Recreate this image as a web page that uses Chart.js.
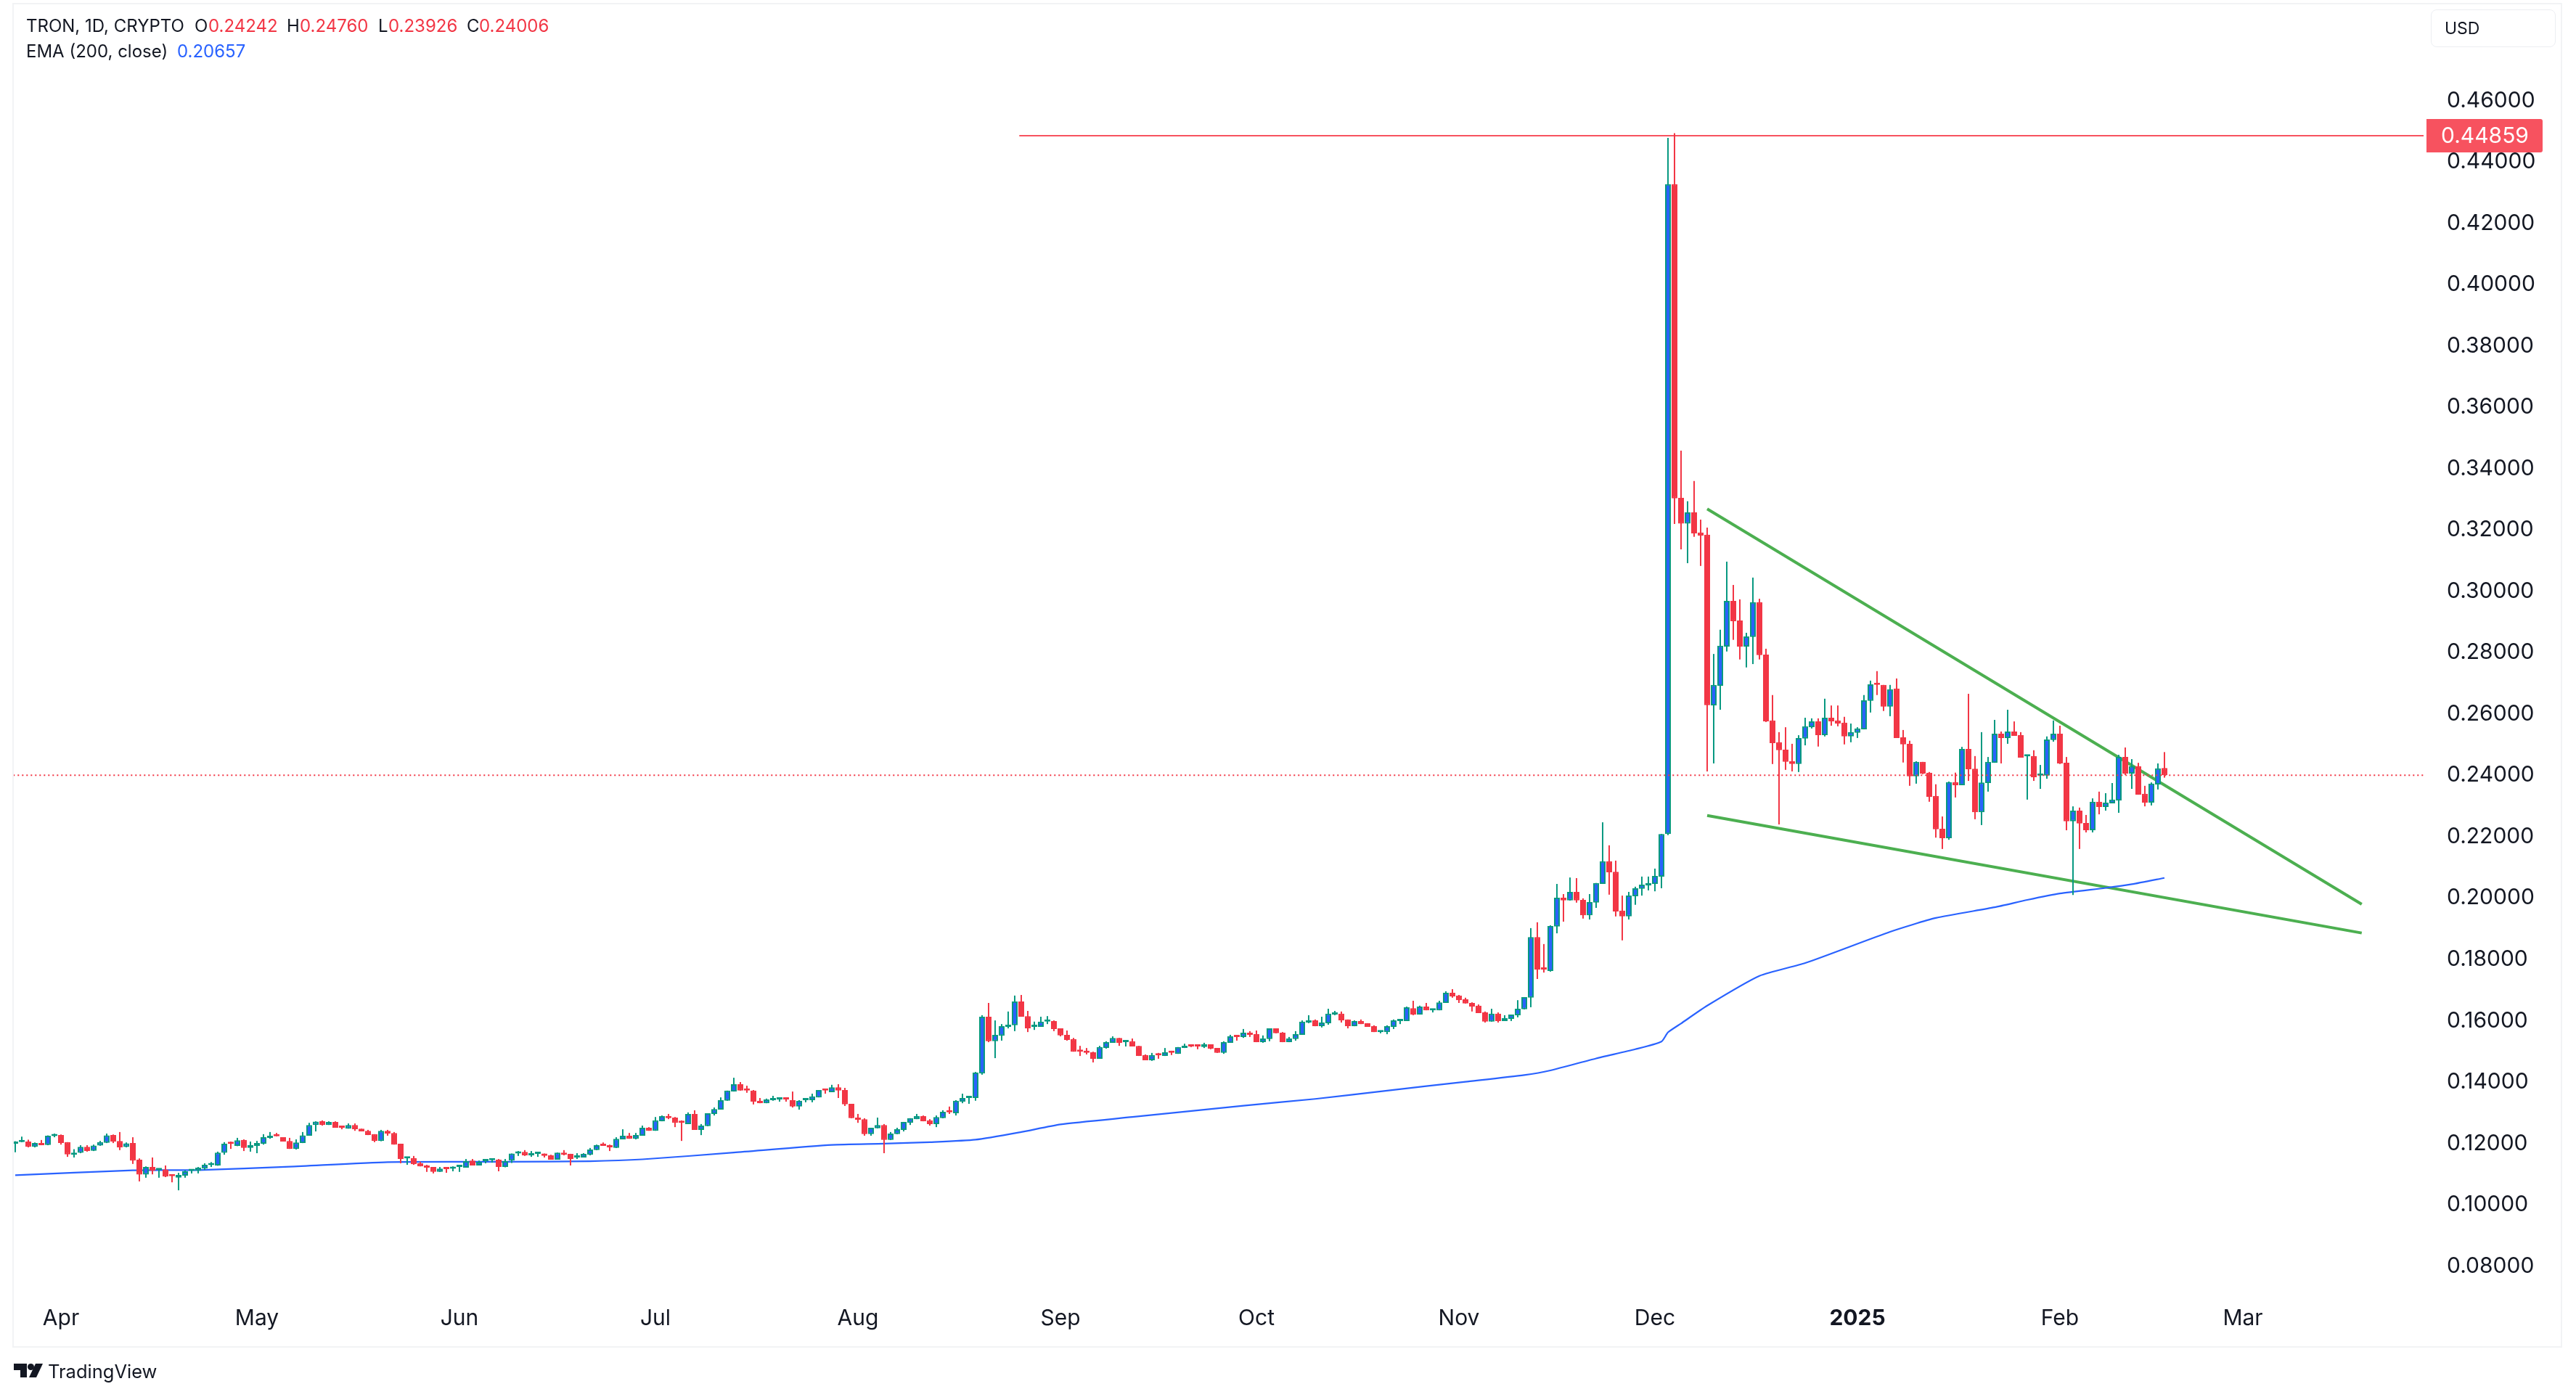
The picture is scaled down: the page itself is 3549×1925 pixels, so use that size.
<!DOCTYPE html>
<html>
<head>
<meta charset="utf-8">
<title>TRON, 1D, CRYPTO</title>
<script src="https://cdn.jsdelivr.net/npm/chart.js@4/dist/chart.umd.min.js"></script>
<style>
    html, body { margin: 0; padding: 0; background: #fff; }
    body { width: 3549px; height: 1925px; overflow: hidden; position: relative; font-family: Inter, sans-serif; color: #131722; }
    #chart { position: absolute; left: 0; top: 0; }
    #frame { position: absolute; left: 17px; top: 4px; width: 3509px; height: 1849px; border: 2px solid #f2f3f5; }
    .t { position: absolute; font-size: 24px; line-height: 30px; white-space: nowrap; }
    .red { color: #f23645; }
    .blue { color: #2962ff; }
    #usd { position: absolute; left: 3349px; top: 13px; width: 172px; height: 52px; box-sizing: border-box; border: 1px solid #eceef2; border-radius: 8px; font-size: 23px; line-height: 50px; padding-left: 18px; }
    #brand { position: absolute; left: 66px; top: 1876px; font-size: 25.5px; line-height: 28px; }
    #logo { position: absolute; left: 19px; top: 1879px; }
</style>
</head>
<body>
<canvas id="chart" width="3549" height="1925"></canvas>
<div id="frame"></div>

<div class="t" style="left:36px;top:21px">TRON, 1D, CRYPTO</div>
<div class="t" style="left:268px;top:21px">O</div><div class="t red" style="left:287px;top:21px">0.24242</div>
<div class="t" style="left:395px;top:21px">H</div><div class="t red" style="left:413px;top:21px">0.24760</div>
<div class="t" style="left:521px;top:21px">L</div><div class="t red" style="left:535px;top:21px">0.23926</div>
<div class="t" style="left:643px;top:21px">C</div><div class="t red" style="left:660px;top:21px">0.24006</div>
<div class="t" style="left:36px;top:56px">EMA (200, close)</div>
<div class="t blue" style="left:244px;top:56px">0.20657</div>

<div id="usd">USD</div>

<svg id="logo" width="40" height="20" viewBox="0 0 40 20">
    <path d="M0 0H18V19H9V9H0Z" fill="#131722"/>
    <circle cx="23.5" cy="4.5" r="4.5" fill="#131722"/>
    <path d="M30 0H40L31 19H21Z" fill="#131722"/>
</svg>
<div id="brand">TradingView</div>

<script>
// Candles, Mar 25 2024 is index 0
var opens = [
    .1199,.1204,.1206,.1189,.1201,.1195,.1224,.1227,.1204,.1163,
    .1169,.1189,.1176,.1193,.1202,.1227,.1208,.1188,.1201,.1147,
    .1098,.1123,.1113,.1115,.1097,.1088,.1095,.1110,.1111,.1118,
    .1129,.1128,.1169,.1201,.1192,.1211,.1185,.1192,.1199,.1218,
    .1226,.1220,.1208,.1182,.1201,.1225,.1260,.1272,.1260,.1270,
    .1255,.1248,.1260,.1248,.1241,.1230,.1208,.1241,.1234,.1199,
    .1151,.1152,.1135,.1128,.1123,.1107,.1120,.1117,.1123,.1121,
    .1144,.1128,.1142,.1145,.1147,.1123,.1144,.1167,.1172,.1161,
    .1166,.1167,.1161,.1147,.1170,.1166,.1154,.1154,.1163,.1178,
    .1196,.1193,.1185,.1213,.1225,.1215,.1225,.1251,.1241,.1272,
    .1289,.1284,.1273,.1263,.1296,.1244,.1256,.1296,.1310,.1339,
    .1369,.1393,.1376,.1372,.1339,.1331,.1341,.1343,.1348,.1341,
    .1320,.1341,.1341,.1350,.1376,.1367,.1383,.1374,.1329,.1284,
    .1279,.1230,.1249,.1260,.1211,.1230,.1244,.1267,.1279,.1289,
    .1275,.1263,.1282,.1305,.1298,.1336,.1348,.1348,.1428,.1613,
    .1533,.1551,.1580,.1585,.1663,.1615,.1580,.1580,.1597,.1599,
    .1575,.1554,.1540,.1504,.1499,.1497,.1476,.1511,.1528,.1544,
    .1530,.1533,.1518,.1488,.1471,.1491,.1485,.1499,.1492,.1511,
    .1521,.1521,.1514,.1523,.1511,.1495,.1528,.1552,.1547,.1561,
    .1556,.1530,.1540,.1575,.1561,.1530,.1540,.1554,.1594,.1601,
    .1582,.1592,.1620,.1623,.1604,.1582,.1599,.1592,.1582,.1563,
    .1563,.1580,.1599,.1599,.1641,.1620,.1646,.1634,.1634,.1658,
    .1691,.1682,.1670,.1658,.1649,.1627,.1597,.1623,.1599,.1606,
    .1618,.1637,.1675,.1873,.1772,.1762,.1907,.2001,.1992,.2020,
    .1994,.1944,.1985,.2046,.2120,.2086,.1959,.1940,.2006,.2030,
    .2041,.2046,.2070,.2209,.4328,.3305,.3221,.3258,.3192,.3185,
    .2628,.2692,.2820,.2969,.2905,.2820,.2851,.2965,.2794,.2579,
    .2508,.2484,.2446,.2437,.2520,.2557,.2576,.2531,.2588,.2579,
    .2572,.2527,.2539,.2550,.2643,.2699,.2695,.2624,.2683,.2524,
    .2503,.2397,.2444,.2409,.2333,.2226,.2195,.2378,.2368,.2486,
    .2422,.2280,.2375,.2441,.2536,.2522,.2543,.2531,.2462,.2463,
    .2399,.2399,.2515,.2536,.2441,.2250,.2285,.2245,.2221,.2314,
    .2297,.2309,.2318,.2460,.2406,.2430,.2340,.2311,.2370,.24242
];
var highs = [
    .1207,.1222,.1212,.1203,.1211,.1226,.1232,.1229,.1204,.1181,
    .1194,.1194,.1196,.1208,.1232,.1229,.1237,.1203,.1220,.1151,
    .1125,.1154,.1118,.1128,.1099,.1104,.1112,.1113,.1123,.1135,
    .1139,.1173,.1204,.1206,.1218,.1213,.1206,.1208,.1230,.1237,
    .1234,.1220,.1218,.1213,.1237,.1267,.1272,.1275,.1272,.1272,
    .1255,.1265,.1265,.1248,.1244,.1230,.1244,.1244,.1237,.1199,
    .1154,.1159,.1140,.1130,.1123,.1123,.1121,.1125,.1125,.1149,
    .1149,.1144,.1147,.1149,.1149,.1149,.1167,.1175,.1178,.1175,
    .1170,.1167,.1163,.1170,.1178,.1166,.1168,.1168,.1185,.1196,
    .1203,.1196,.1220,.1246,.1234,.1234,.1258,.1253,.1286,.1291,
    .1296,.1286,.1275,.1301,.1308,.1263,.1298,.1317,.1350,.1372,
    .1414,.1400,.1388,.1374,.1348,.1346,.1355,.1348,.1348,.1369,
    .1341,.1346,.1362,.1374,.1376,.1391,.1393,.1381,.1329,.1296,
    .1282,.1251,.1284,.1263,.1237,.1251,.1270,.1282,.1296,.1291,
    .1279,.1291,.1308,.1320,.1341,.1362,.1355,.1433,.1618,.1658,
    .1601,.1589,.1630,.1682,.1684,.1632,.1597,.1613,.1615,.1601,
    .1575,.1568,.1544,.1518,.1511,.1499,.1518,.1533,.1549,.1544,
    .1535,.1542,.1518,.1490,.1495,.1495,.1511,.1502,.1514,.1525,
    .1523,.1521,.1528,.1523,.1511,.1533,.1554,.1552,.1573,.1566,
    .1568,.1552,.1575,.1575,.1563,.1547,.1566,.1601,.1618,.1604,
    .1613,.1639,.1632,.1630,.1604,.1601,.1604,.1592,.1585,.1568,
    .1585,.1604,.1604,.1646,.1665,.1649,.1658,.1639,.1665,.1696,
    .1703,.1684,.1675,.1660,.1653,.1630,.1639,.1627,.1618,.1620,
    .1667,.1677,.1902,.1921,.1850,.1911,.2046,.2013,.2067,.2065,
    .1999,.2013,.2049,.2247,.2172,.2122,.2008,.2020,.2037,.2070,
    .2070,.2096,.2209,.4479,.4494,.3459,.3294,.3360,.3234,.3208,
    .2796,.2875,.3097,.3021,.2974,.2865,.3045,.2976,.2813,.2662,
    .2541,.2557,.2503,.2531,.2588,.2586,.2586,.2650,.2628,.2628,
    .2591,.2569,.2557,.2662,.2709,.2740,.2695,.2695,.2716,.2548,
    .2513,.2446,.2444,.2411,.2371,.2266,.2380,.2409,.2493,.2666,
    .2463,.2541,.2460,.2581,.2543,.2614,.2576,.2541,.2464,.2482,
    .2434,.2527,.2579,.2562,.2460,.2299,.2295,.2271,.2325,.2347,
    .2342,.2375,.2467,.2491,.2453,.2441,.2366,.2377,.2439,.24760
];
var lows = [
    .1171,.1204,.1187,.1187,.1194,.1194,.1220,.1196,.1156,.1154,
    .1168,.1173,.1175,.1192,.1201,.1201,.1178,.1187,.1133,.1076,
    .1088,.1099,.1088,.1090,.1073,.1047,.1088,.1102,.1102,.1113,
    .1123,.1127,.1163,.1182,.1191,.1175,.1173,.1168,.1196,.1215,
    .1223,.1206,.1182,.1180,.1201,.1225,.1239,.1258,.1260,.1251,
    .1246,.1248,.1241,.1239,.1227,.1204,.1207,.1225,.1196,.1135,
    .1130,.1130,.1125,.1107,.1102,.1107,.1104,.1109,.1107,.1121,
    .1128,.1128,.1135,.1137,.1109,.1122,.1136,.1159,.1159,.1156,
    .1156,.1154,.1147,.1147,.1161,.1128,.1149,.1154,.1161,.1178,
    .1192,.1175,.1185,.1213,.1215,.1213,.1225,.1241,.1241,.1272,
    .1279,.1253,.1208,.1263,.1244,.1227,.1256,.1291,.1310,.1339,
    .1369,.1372,.1365,.1327,.1331,.1331,.1339,.1336,.1336,.1317,
    .1310,.1334,.1334,.1350,.1362,.1367,.1348,.1322,.1282,.1267,
    .1225,.1225,.1249,.1168,.1211,.1230,.1239,.1260,.1279,.1272,
    .1258,.1253,.1282,.1296,.1291,.1331,.1329,.1339,.1424,.1530,
    .1478,.1535,.1575,.1566,.1613,.1563,.1570,.1580,.1589,.1566,
    .1549,.1535,.1499,.1485,.1490,.1464,.1476,.1509,.1528,.1518,
    .1516,.1516,.1485,.1471,.1469,.1476,.1485,.1488,.1492,.1511,
    .1514,.1507,.1511,.1507,.1495,.1492,.1528,.1535,.1544,.1547,
    .1530,.1528,.1533,.1559,.1530,.1530,.1535,.1554,.1592,.1582,
    .1578,.1587,.1618,.1594,.1575,.1582,.1589,.1580,.1563,.1559,
    .1556,.1573,.1589,.1599,.1618,.1620,.1634,.1627,.1634,.1658,
    .1675,.1658,.1656,.1630,.1625,.1594,.1597,.1594,.1599,.1599,
    .1611,.1637,.1644,.1736,.1757,.1760,.1885,.1923,.1992,.1985,
    .1933,.1930,.1968,.2046,.2011,.1940,.1862,.1930,.1978,.2008,
    .2025,.2022,.2032,.2205,.3220,.3137,.3092,.3178,.3083,.2413,
    .2439,.2614,.2804,.2842,.2778,.2752,.2763,.2778,.2574,.2437,
    .2240,.2418,.2413,.2411,.2498,.2553,.2494,.2527,.2562,.2560,
    .2501,.2508,.2522,.2550,.2605,.2662,.2610,.2593,.2522,.2442,
    .2366,.2373,.2404,.2314,.2197,.2160,.2190,.2328,.2368,.2382,
    .2257,.2238,.2347,.2441,.2439,.2503,.2529,.2458,.2321,.2382,
    .2356,.2389,.2510,.2437,.2221,.2010,.2160,.2214,.2214,.2273,
    .2285,.2309,.2278,.2401,.2356,.2337,.2299,.2302,.2354,.23926
];
var closes = [
    .1205,.1208,.1189,.1201,.1194,.1225,.1229,.1201,.1164,.1170,
    .1189,.1175,.1193,.1204,.1226,.1206,.1187,.1200,.1144,.1098,
    .1123,.1111,.1117,.1092,.1093,.1097,.1109,.1112,.1121,.1130,
    .1133,.1170,.1199,.1198,.1210,.1185,.1194,.1201,.1220,.1225,
    .1223,.1206,.1182,.1203,.1226,.1260,.1271,.1260,.1270,.1251,
    .1251,.1260,.1246,.1239,.1227,.1208,.1241,.1232,.1196,.1149,
    .1153,.1132,.1125,.1121,.1107,.1118,.1116,.1121,.1125,.1142,
    .1128,.1140,.1146,.1147,.1123,.1142,.1167,.1173,.1161,.1166,
    .1170,.1159,.1147,.1170,.1163,.1149,.1159,.1166,.1180,.1194,
    .1192,.1187,.1215,.1225,.1215,.1227,.1251,.1241,.1275,.1289,
    .1282,.1267,.1267,.1296,.1244,.1258,.1298,.1312,.1341,.1372,
    .1393,.1372,.1372,.1336,.1331,.1343,.1346,.1348,.1343,.1320,
    .1339,.1346,.1353,.1374,.1372,.1383,.1372,.1327,.1282,.1277,
    .1230,.1251,.1260,.1211,.1232,.1246,.1270,.1282,.1289,.1272,
    .1263,.1286,.1303,.1301,.1339,.1348,.1353,.1431,.1613,.1533,
    .1554,.1582,.1587,.1663,.1613,.1575,.1585,.1597,.1601,.1573,
    .1552,.1537,.1499,.1499,.1495,.1476,.1514,.1530,.1544,.1528,
    .1535,.1516,.1485,.1471,.1488,.1487,.1497,.1495,.1514,.1518,
    .1516,.1516,.1523,.1509,.1495,.1530,.1549,.1547,.1561,.1554,
    .1530,.1542,.1575,.1559,.1530,.1542,.1556,.1597,.1601,.1582,
    .1594,.1623,.1625,.1601,.1582,.1599,.1589,.1580,.1563,.1568,
    .1582,.1601,.1604,.1644,.1620,.1646,.1634,.1639,.1660,.1691,
    .1679,.1667,.1656,.1646,.1625,.1597,.1623,.1599,.1608,.1620,
    .1639,.1677,.1873,.1767,.1767,.1909,.2001,.1992,.2020,.1992,
    .1944,.1987,.2049,.2120,.2084,.1956,.1940,.2008,.2032,.2044,
    .2049,.2072,.2209,.4328,.3303,.3221,.3258,.3189,.3182,.2629,
    .2695,.2823,.2969,.2903,.2820,.2853,.2965,.2792,.2576,.2505,
    .2482,.2444,.2437,.2522,.2560,.2576,.2531,.2588,.2576,.2569,
    .2527,.2541,.2553,.2645,.2697,.2695,.2624,.2681,.2522,.2501,
    .2397,.2444,.2406,.2330,.2224,.2195,.2378,.2368,.2486,.2420,
    .2280,.2377,.2444,.2536,.2522,.2543,.2529,.2458,.2464,.2394,
    .2401,.2517,.2536,.2439,.2250,.2285,.2243,.2221,.2314,.2297,
    .2311,.2321,.2460,.2406,.2430,.2337,.2311,.2373,.2423,.24006
];

// EMA (200, close), read at these candle indexes
var emaIndex = [0, 18, 28, 42, 57, 75, 88, 96, 110, 125, 133, 140, 147, 154, 160, 171, 188, 199, 210, 222, 231, 235, 242, 248, 252, 253, 255, 259, 267, 274, 287, 294, 303, 308, 313, 320, 324, 329];
var emaValues = [.1096, .1112, .1113, .1124, .1139, .1140, .1142, .1148, .1170, .1195, .1199, .1204, .1212, .1237, .1262, .1286, .1323, .1345, .1372, .1401, .1423, .1438, .1477, .1507, .1532, .1562, .1591, .1649, .1746, .1788, .1890, .1935, .1970, .1994, .2015, .2033, .2045, .20657];

// Wedge lines and the horizontal level drawn on the chart
var upperLineIndex = [259, 359.2];
var upperLineValues = [.3269, .1980];
var lowerLineIndex = [259, 359.2];
var lowerLineValues = [.2269, .1886];
var levelPrice = 0.44859;
var levelIndex = [153.7, 369];
var lastPrice = 0.24006;

// Axis ticks
var monthIndex = [7, 37, 68, 98, 129, 160, 190, 221, 251, 282, 313, 341];
var monthLabels = ["Apr", "May", "Jun", "Jul", "Aug", "Sep", "Oct", "Nov", "Dec", "2025", "Feb", "Mar"];
var priceTicks = [0.08, 0.10, 0.12, 0.14, 0.16, 0.18, 0.20, 0.22, 0.24, 0.26, 0.28, 0.30, 0.32, 0.34, 0.36, 0.38, 0.40, 0.42, 0.44, 0.46];

var UP = "#089981", DOWN = "#f23645", BLUE = "#2962ff", TEXT = "#131722";
var isUp = closes.map(function (c, i) { return c >= opens[i]; });

function pairs(xs, ys) {
    return xs.map(function (x, i) { return {x: x, y: ys[i]}; });
}

// Price label on the axis for the horizontal level
var levelLabel = {
    id: "levelLabel",
    afterDraw: function (chart) {
        var c = chart.ctx;
        var y = chart.scales.y.getPixelForValue(levelPrice);
        c.save();
        c.fillStyle = "#f7525f";
        c.beginPath();
        c.roundRect(3343, y - 23, 160, 46, [0, 3, 3, 0]);
        c.fill();
        c.fillStyle = "#fff";
        c.font = "30px Inter";
        c.textAlign = "left";
        c.textBaseline = "middle";
        c.fillText(levelPrice.toFixed(5), 3363, y + 1);
        c.restore();
    }
};

var ctx = document.getElementById("chart").getContext("2d");
var myChart = new Chart(ctx, {
    type: "bar",
    plugins: [levelLabel],
    data: {
        datasets: [
            {
                // last price
                type: "line",
                data: pairs([-0.3, 368.7], [lastPrice, lastPrice]),
                borderColor: DOWN,
                borderWidth: 2,
                borderDash: [2, 4],
                pointRadius: 0,
                order: 1
            },
            {
                // candle bodies
                data: opens.map(function (o, i) { return {x: i, y: [o, closes[i]]}; }),
                backgroundColor: isUp.map(function (u) { return u ? BLUE : DOWN; }),
                borderColor: isUp.map(function (u) { return u ? UP : DOWN; }),
                borderWidth: 2,
                borderSkipped: false,
                barThickness: 8,
                minBarLength: 3,
                inflateAmount: 0,
                grouped: false,
                order: 2
            },
            {
                // candle wicks
                data: lows.map(function (l, i) { return {x: i, y: [l, highs[i]]}; }),
                backgroundColor: isUp.map(function (u) { return u ? UP : DOWN; }),
                borderWidth: 0,
                barThickness: 2,
                inflateAmount: 0,
                grouped: false,
                order: 3
            },
            {
                type: "line",
                data: pairs(emaIndex, emaValues),
                borderColor: BLUE,
                borderWidth: 2.2,
                pointRadius: 0,
                tension: 0.2,
                order: 4
            },
            {
                type: "line",
                data: pairs(upperLineIndex, upperLineValues),
                borderColor: "#4caf50",
                borderWidth: 4,
                pointRadius: 0,
                order: 5
            },
            {
                type: "line",
                data: pairs(lowerLineIndex, lowerLineValues),
                borderColor: "#4caf50",
                borderWidth: 4,
                pointRadius: 0,
                order: 5
            },
            {
                type: "line",
                data: pairs(levelIndex, [levelPrice, levelPrice]),
                borderColor: "#f7525f",
                borderWidth: 2,
                pointRadius: 0,
                order: 6
            }
        ]
    },
    options: {
        responsive: false,
        animation: false,
        devicePixelRatio: 1,
        layout: {padding: {left: 19, right: 21, top: 6, bottom: 70}},
        plugins: {legend: {display: false}, tooltip: {enabled: false}},
        scales: {
            x: {
                type: "linear",
                offset: false,
                min: -0.222,
                max: 368.667,
                grid: {display: false},
                border: {display: false},
                afterBuildTicks: function (axis) {
                    axis.ticks = monthIndex.map(function (v) { return {value: v}; });
                },
                afterFit: function (axis) {
                    axis.height = 69;
                    axis.paddingLeft = 0;
                    axis.paddingRight = 0;
                },
                ticks: {
                    autoSkip: false,
                    maxRotation: 0,
                    padding: 5,
                    color: TEXT,
                    font: function (c) {
                        return {family: "Inter", size: 30, weight: c.tick && c.tick.label === "2025" ? "bold" : "normal"};
                    },
                    callback: function (v) { return monthLabels[monthIndex.indexOf(v)]; }
                }
            },
            y: {
                position: "right",
                min: 0.07019,
                max: 0.49143,
                grid: {display: false},
                border: {display: false},
                afterBuildTicks: function (axis) {
                    axis.ticks = priceTicks.map(function (v) { return {value: v}; });
                },
                afterFit: function (axis) {
                    axis.width = 189;
                    axis.paddingTop = 0;
                    axis.paddingBottom = 0;
                },
                ticks: {
                    padding: 24,
                    color: TEXT,
                    font: {family: "Inter", size: 30},
                    callback: function (v) { return v.toFixed(5); }
                }
            }
        }
    }
});
</script>
</body>
</html>
